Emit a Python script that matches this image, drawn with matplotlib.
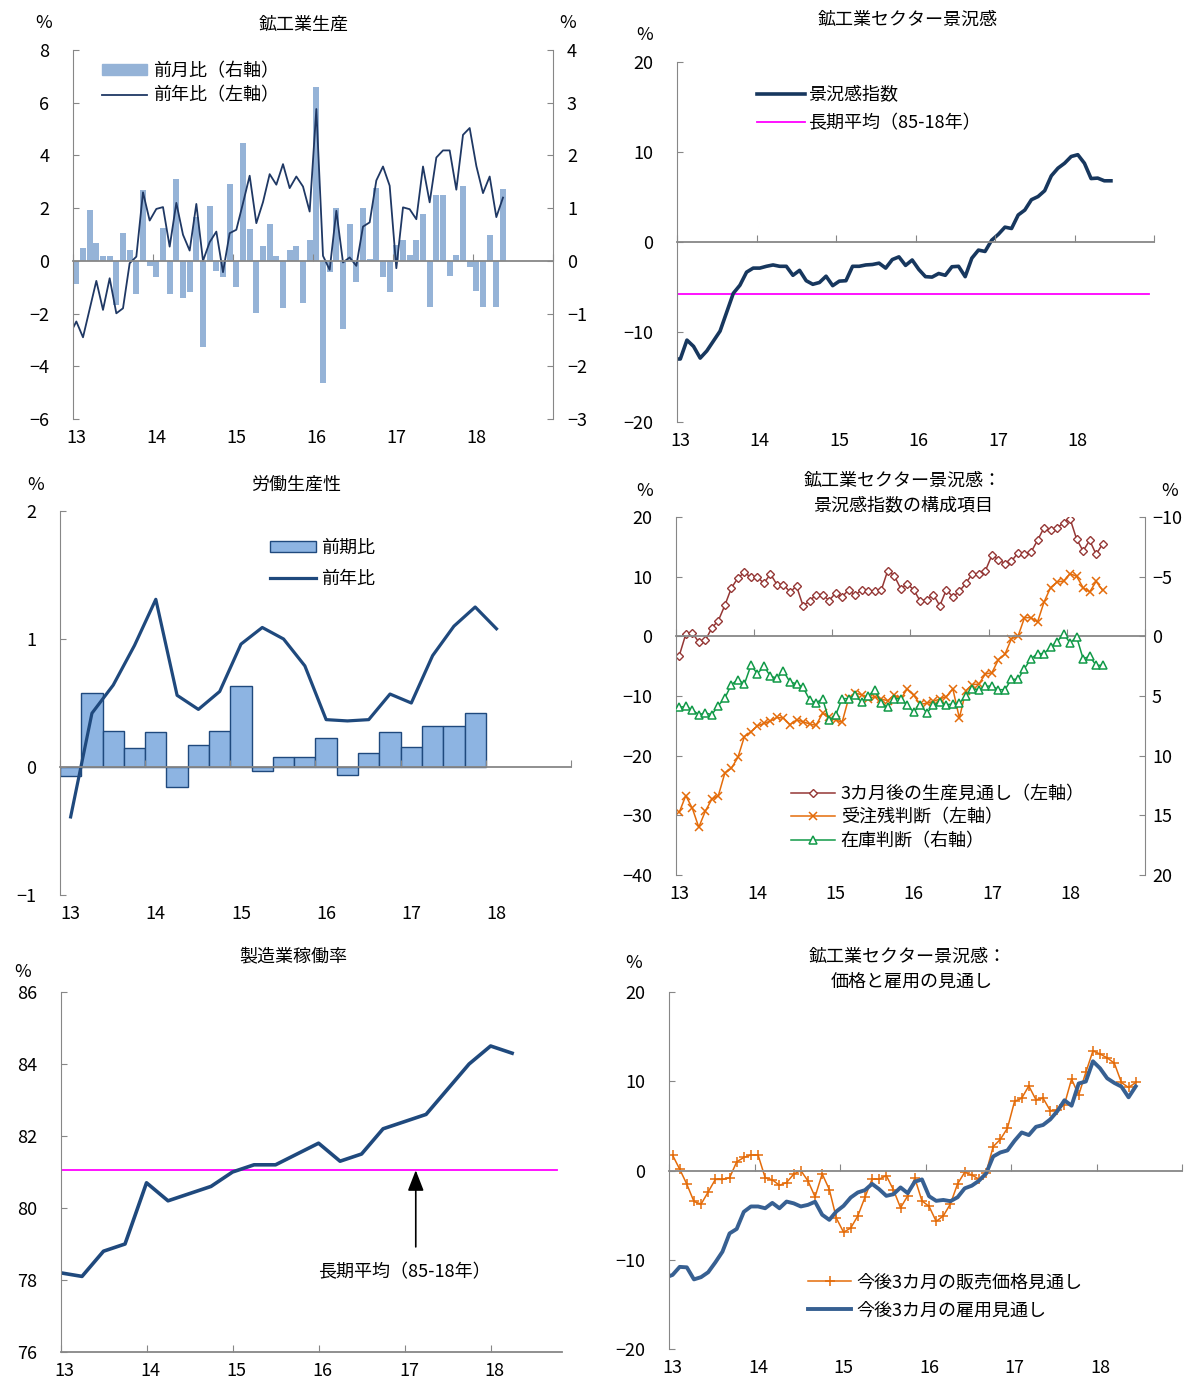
import numpy as np
import matplotlib
matplotlib.use('Agg')
import matplotlib.pyplot as plt
from matplotlib.patches import Patch
from matplotlib.lines import Line2D

plt.rcParams['font.family'] = ['Noto Sans CJK JP', 'DejaVu Sans']
plt.rcParams['axes.unicode_minus'] = True

# ---- data ----
year_labels = ['13', '14', '15', '16', '17', '18']

# 鉱工業生産: 前月比 (right axis), Jan-13 .. May-18
ip_mom = [-0.44, 0.24, 0.96, 0.33, 0.10, 0.10, -0.84, 0.53, 0.21, -0.63, 1.35, -0.10,
          -0.30, 0.63, -0.63, 1.55, -0.70, -0.60, 0.83, -1.63, 1.05, -0.20, -0.30, 1.45,
          -0.49, 2.23, 0.60, -0.99, 0.29, 0.70, 0.10, -0.90, 0.20, 0.29, -0.80, 0.40,
          3.30, -2.31, -0.22, 1.00, -1.30, 0.70, -0.41, 1.00, 0.03, 1.39, -0.31, -0.60,
          0.30, 0.40, 0.11, 0.40, 0.89, -0.87, 1.25, 1.25, -0.28, 0.11, 1.42, -0.11,
          -0.57, -0.87, 0.50, -0.87, 1.36]
# 前年比 (left axis), Dec-12 .. May-18
ip_yoy = [-2.8,
          -2.3, -2.9, -1.83, -0.76, -1.86, -0.66, -1.99, -1.8, -0.09, 0.16, 2.6, 1.53,
          1.97, 2.04, 0.54, 2.2, 0.99, 0.39, 2.16, 0.0, 0.71, 1.11, -0.43, 1.05,
          1.18, 2.19, 3.23, 1.43, 2.23, 3.29, 2.89, 3.67, 2.76, 3.2, 2.82, 1.87,
          5.76, 0.19, -0.34, 1.9, -0.06, 0.13, -0.19, 1.3, 1.46, 3.05, 3.58, 2.85,
          -0.28, 2.03, 1.96, 1.58, 3.58, 2.22, 3.92, 4.19, 4.19, 2.7, 4.78, 5.04,
          3.6, 2.57, 3.2, 1.66, 2.4]

# 鉱工業セクター景況感, Dec-12 .. Jun-18
bci = [-13.0,
       -13.0, -10.9, -11.6, -12.9, -12.1, -11.0, -9.9, -7.8, -5.7, -4.8, -3.35, -2.9,
       -2.9, -2.7, -2.55, -2.7, -2.7, -3.7, -3.15, -4.3, -4.7, -4.5, -3.8, -4.85,
       -4.35, -4.3, -2.7, -2.7, -2.55, -2.5, -2.35, -2.9, -1.95, -1.65, -2.6, -2.0,
       -3.05, -3.85, -3.9, -3.5, -3.7, -2.75, -2.7, -3.85, -1.8, -0.9, -1.05, 0.2,
       0.85, 1.65, 1.5, 3.0, 3.55, 4.7, 5.05, 5.7, 7.35, 8.2, 8.75, 9.5,
       9.7, 8.75, 7.05, 7.1, 6.8, 6.8]
bci_avg = -5.8

# 労働生産性 (quarterly)
lp_qoq = [-0.07, 0.58, 0.28, 0.15, 0.27, -0.16, 0.17, 0.28, 0.63, -0.03,
          0.08, 0.08, 0.23, -0.06, 0.11, 0.27, 0.16, 0.32, 0.32, 0.42]
lp_yoy = [-0.39, 0.42, 0.64, 0.95, 1.31, 0.56, 0.45, 0.59, 0.96, 1.09, 1.0,
          0.79, 0.37, 0.36, 0.37, 0.57, 0.5, 0.87, 1.1, 1.25, 1.08]

# 景況感指数の構成項目, Jan-13 .. Jun-18
prod_exp = [-3.24, 0.35, 0.56, -0.95, -0.67, 1.4, 2.63, 5.2, 8.1, 9.78, 10.7, 9.9,
            9.9, 8.9, 10.45, 8.66, 8.66, 7.43, 8.4, 5.14, 5.87, 7.0, 7.0, 5.98,
            7.26, 6.6, 7.8, 6.87, 7.8, 7.54, 7.54, 7.7, 11.0, 10.17, 8.0, 8.77,
            7.8, 5.87, 6.15, 7.0, 5.14, 7.8, 6.6, 7.54, 8.9, 10.5, 10.5, 11.0,
            13.6, 12.85, 12.2, 12.6, 13.97, 13.74, 14.1, 16.1, 18.2, 17.8, 18.2, 19.0,
            19.7, 16.3, 14.3, 16.1, 13.74, 15.5]
orders = [-29.5, -26.7, -28.8, -32.0, -29.3, -27.3, -26.7, -22.9, -22.1, -20.3, -16.8, -16.0,
          -15.0, -14.6, -14.2, -13.6, -13.7, -14.8, -14.0, -14.3, -14.7, -14.9, -12.9, -13.6,
          -14.0, -14.4, -10.4, -9.5, -9.8, -10.5, -10.1, -10.5, -10.8, -9.8, -10.5, -8.8,
          -9.9, -11.4, -11.2, -10.9, -10.5, -10.1, -8.8, -13.7, -9.1, -8.1, -8.0, -6.3,
          -6.1, -3.9, -3.0, -0.4, 0.0, 3.13, 3.13, 2.4, 5.75, 8.16, 9.1, 9.27,
          10.5, 10.06, 8.16, 7.43, 9.2, 7.7]
stocks = [5.95, 5.87, 6.17, 6.56, 6.42, 6.56, 5.8, 5.17, 4.05, 3.63, 4.0, 2.43,
          3.13, 2.51, 3.35, 3.49, 2.93, 3.83, 3.97, 4.27, 5.3, 5.59, 5.22, 7.04,
          6.62, 5.22, 5.22, 4.94, 5.5, 5.03, 4.47, 5.59, 5.95, 5.22, 5.22, 5.78,
          6.34, 5.73, 6.42, 5.78, 5.5, 5.73, 5.67, 5.59, 5.03, 4.41, 4.47, 4.19,
          4.16, 4.47, 4.47, 3.6, 3.6, 2.7, 1.87, 1.45, 1.45, 0.89, 0.47, -0.22,
          0.56, 0.06, 1.87, 1.68, 2.43, 2.43]

# 製造業稼働率 (quarterly, Q1-13 .. Q2-18)
cu = [78.2, 78.1, 78.8, 79.0, 80.7, 80.2, 80.4, 80.6, 81.0, 81.2, 81.2,
      81.5, 81.8, 81.3, 81.5, 82.2, 82.4, 82.6, 83.3, 84.0, 84.5, 84.3]
cu_avg = 81.05

# 価格と雇用の見通し, Jan-13 .. Jun-18 (雇用 from Dec-12)
price_exp = [1.72, 0.15, -1.53, -3.47, -3.77, -2.4, -1.0, -1.0, -0.82, 0.97, 1.46, 1.74,
             1.74, -0.82, -1.04, -1.66, -1.35, -0.41, 0.0, -1.16, -2.95, -0.38, -2.13, -5.36,
             -6.92, -6.45, -5.09, -3.0, -0.97, -0.97, -0.57, -2.17, -4.18, -2.84, -0.86, -3.4,
             -4.02, -5.7, -5.09, -3.74, -1.5, -0.2, -0.5, -0.97, -0.26, 2.68, 3.48, 4.74,
             7.75, 8.1, 9.47, 7.93, 8.1, 6.72, 6.75, 7.39, 10.25, 8.45, 11.0, 13.4,
             13.05, 12.62, 12.03, 9.86, 9.3, 9.86]
employ_exp = [-12.0,
              -11.7, -10.8, -10.85, -12.2, -11.95, -11.4, -10.3, -9.1, -7.05, -6.55, -4.63, -4.03,
              -4.03, -4.23, -3.63, -4.23, -3.48, -3.68, -4.03, -3.85, -3.5, -4.96, -5.53, -4.58,
              -3.96, -3.03, -2.46, -2.2, -1.5, -2.1, -2.84, -2.66, -1.9, -2.54, -1.25, -1.0,
              -2.88, -3.4, -3.3, -3.44, -3.0, -2.0, -1.7, -1.15, -0.35, 1.57, 2.02, 2.25,
              3.33, 4.26, 3.97, 4.89, 5.1, 5.72, 6.64, 7.87, 7.26, 9.75, 9.97, 12.24,
              11.45, 10.33, 9.81, 9.4, 8.2, 9.42]

# ---- style ----
W, H = 1186, 1378
FS = 13
GRAY = '#878787'
NAVY = '#1F3864'
DBLUE = '#1F497D'
MAGENTA = '#FF00FF'
ORANGE = '#E46C0A'

fig = plt.figure(figsize=(W / 100, H / 100), dpi=100)


def px_axes(left, top, right, bottom):
    return fig.add_axes([left / W, 1 - bottom / H, (right - left) / W, (bottom - top) / H])


def ftext(x, y, s, **kw):
    fig.text(x / W, 1 - y / H, s, ha='center', va='center', fontsize=FS, **kw)


def months(n, start=0):
    return 2013 + (np.arange(n) + start + 0.5) / 12


def style(ax, ylim, yticks, label_x, tick_x, xlim=(2013, 2019), zero=0.0):
    ax.set_xlim(*xlim)
    ax.set_ylim(*ylim)
    ax.set_yticks(yticks)
    for s in ['top', 'right', 'bottom']:
        ax.spines[s].set_visible(False)
    ax.spines['left'].set_color(GRAY)
    ax.tick_params(axis='y', direction='in', length=4, color=GRAY, pad=17, labelsize=FS)
    ax.set_xticks(label_x, year_labels)
    ax.tick_params(axis='x', length=0, pad=7, labelsize=FS)
    frac = (zero - ylim[0]) / (ylim[1] - ylim[0])
    sec = ax.secondary_xaxis(frac)
    sec.set_alignment('bottom')
    sec.set_xticks(tick_x)
    sec.tick_params(direction='in', length=5, color=GRAY, labelbottom=False)
    sec.spines['bottom'].set_color(GRAY)
    sec.spines['bottom'].set_linewidth(1.3)
    sec.set_zorder(2.5)
    return sec


def right_axis(ax, ylim, yticks, pad):
    ax2 = ax.twinx()
    ax2.set_ylim(*ylim)
    ax2.set_yticks(yticks)
    for s in ['top', 'left', 'bottom']:
        ax2.spines[s].set_visible(False)
    ax2.spines['right'].set_color(GRAY)
    ax2.tick_params(axis='y', direction='in', length=4, color=GRAY, pad=pad, labelsize=FS)
    return ax2


def legend_at(ax, handles, labels, x, y, **kw):
    ax.legend(handles, labels, loc='upper left', bbox_to_anchor=(x / W, 1 - y / H),
              bbox_transform=fig.transFigure, frameon=False, fontsize=FS,
              borderpad=0, borderaxespad=0, **kw)


years = np.arange(2013, 2020)
m_labels = np.arange(2013, 2019) + 0.5 / 12

# ---- 鉱工業生産 ----
ax = px_axes(73, 50, 553, 419)
style(ax, (-6, 8), range(-6, 9, 2), m_labels, years)
ax2 = right_axis(ax, (-3, 4), range(-3, 5), 10)
ax2.bar(months(len(ip_mom)), ip_mom, width=0.94 / 12, color='#95B3D7')
ax.plot(months(len(ip_yoy), -1), ip_yoy, color=NAVY, lw=1.3)
ax.set_zorder(ax2.get_zorder() + 1)
ax.patch.set_visible(False)
legend_at(ax, [Patch(color='#95B3D7'), Line2D([], [], color=NAVY, lw=1.3)],
          ['前月比（右軸）', '前年比（左軸）'], 102, 62,
          handlelength=2.5, handleheight=0.5, handletextpad=0.3, labelspacing=0.35)
ftext(304, 25, '鉱工業生産')
ftext(44, 23, '%')
ftext(568, 23, '%')

# ---- 鉱工業セクター景況感 ----
ax = px_axes(677, 62, 1154, 422)
style(ax, (-20, 20), range(-20, 21, 10), m_labels, years)
ax.axhline(bci_avg, xmax=0.99, color=MAGENTA, lw=1.3)
ax.plot(months(len(bci), -1), bci, color='#17375E', lw=2.6)
legend_at(ax, [Line2D([], [], color='#17375E', lw=2.6), Line2D([], [], color=MAGENTA, lw=1.3)],
          ['景況感指数', '長期平均（85-18年）'], 757, 86,
          handlelength=2.65, handletextpad=0.2, labelspacing=0.57)
ftext(908, 20, '鉱工業セクター景況感')
ftext(645, 35, '%')

# ---- 労働生産性 ----
ax = px_axes(60, 511, 571, 895)
q_labels = np.arange(2013, 2019) + 0.125
style(ax, (-1, 2), range(-1, 3), q_labels, years)
qx = 2013 + (np.arange(len(lp_yoy)) + 0.5) / 4
ax.bar(qx[:len(lp_qoq)], lp_qoq, width=0.25, color='#8DB4E2', edgecolor=DBLUE, lw=1.0)
ax.plot(qx, lp_yoy, color=DBLUE, lw=2.3)
legend_at(ax, [Patch(facecolor='#8DB4E2', edgecolor=DBLUE, lw=1.0), Line2D([], [], color=DBLUE, lw=2.3)],
          ['前期比', '前年比'], 270, 539,
          handlelength=2.55, handleheight=0.5, handletextpad=0.25, labelspacing=0.72)
ftext(296, 485, '労働生産性')
ftext(36, 485, '%')

# ---- 景況感指数の構成項目 ----
ax = px_axes(676, 517, 1145, 875)
style(ax, (-40, 20), range(-40, 21, 10), m_labels, years)
ax2 = right_axis(ax, (20, -10), range(-10, 21, 5), 5)
mx = months(len(prod_exp))
l1, = ax.plot(mx, prod_exp, color='#953735', lw=1.1, marker='D', ms=4.3, mfc='white', mew=1.0)
l2, = ax.plot(mx, orders, color=ORANGE, lw=1.1, marker='x', ms=5.5, mew=1.1)
l3, = ax2.plot(mx, stocks, color='#119A48', lw=1.1, marker='^', ms=6, mfc='white', mew=1.1)
legend_at(ax2, [l1, l2, l3], ['3カ月後の生産見通し（左軸）', '受注残判断（左軸）', '在庫判断（右軸）'],
          791, 785, handlelength=2.45, handletextpad=0.3, labelspacing=0.3)
ftext(903, 481, '鉱工業セクター景況感：')
ftext(903, 506, '景況感指数の構成項目')
ftext(645, 491, '%')
ftext(1170, 491, '%')

# ---- 製造業稼働率 ----
ax = px_axes(60.5, 992, 562, 1352)
style(ax, (76, 86), range(76, 87, 2), np.arange(2013, 2019) + 0.05, np.arange(2013, 2019),
      xlim=(2013, 2018.83), zero=76)
ax.axhline(cu_avg, xmax=0.99, color=MAGENTA, lw=1.3)
ax.plot(2013 + np.arange(len(cu)) / 4, cu, color=DBLUE, lw=2.6)
ax.annotate('', xy=(2017.13, cu_avg), xytext=(2017.13, 78.92),
            arrowprops=dict(arrowstyle='-|>,head_length=0.9,head_width=0.35', color='black',
                            lw=1.2, shrinkA=0, shrinkB=0, mutation_scale=14))
ax.text(2017.0, 78.22, '長期平均（85-18年）', ha='center', va='center', fontsize=FS)
ftext(293, 956, '製造業稼働率')
ftext(23, 972, '%')

# ---- 価格と雇用の見通し ----
ax = px_axes(669, 992, 1182, 1349)
style(ax, (-20, 20), range(-20, 21, 10), m_labels, years)
p1, = ax.plot(months(len(price_exp)), price_exp, color=ORANGE, lw=1.1, marker='+', ms=7, mew=1.1)
p2, = ax.plot(months(len(employ_exp), -1), employ_exp, color='#376092', lw=2.8)
legend_at(ax, [p1, p2], ['今後3カ月の販売価格見通し', '今後3カ月の雇用見通し'], 808, 1273,
          handlelength=2.4, handletextpad=0.3, labelspacing=0.57)
ftext(908, 957, '鉱工業セクター景況感：')
ftext(912, 982, '価格と雇用の見通し')
ftext(634, 963, '%')

fig.savefig('out.png', dpi=100)
